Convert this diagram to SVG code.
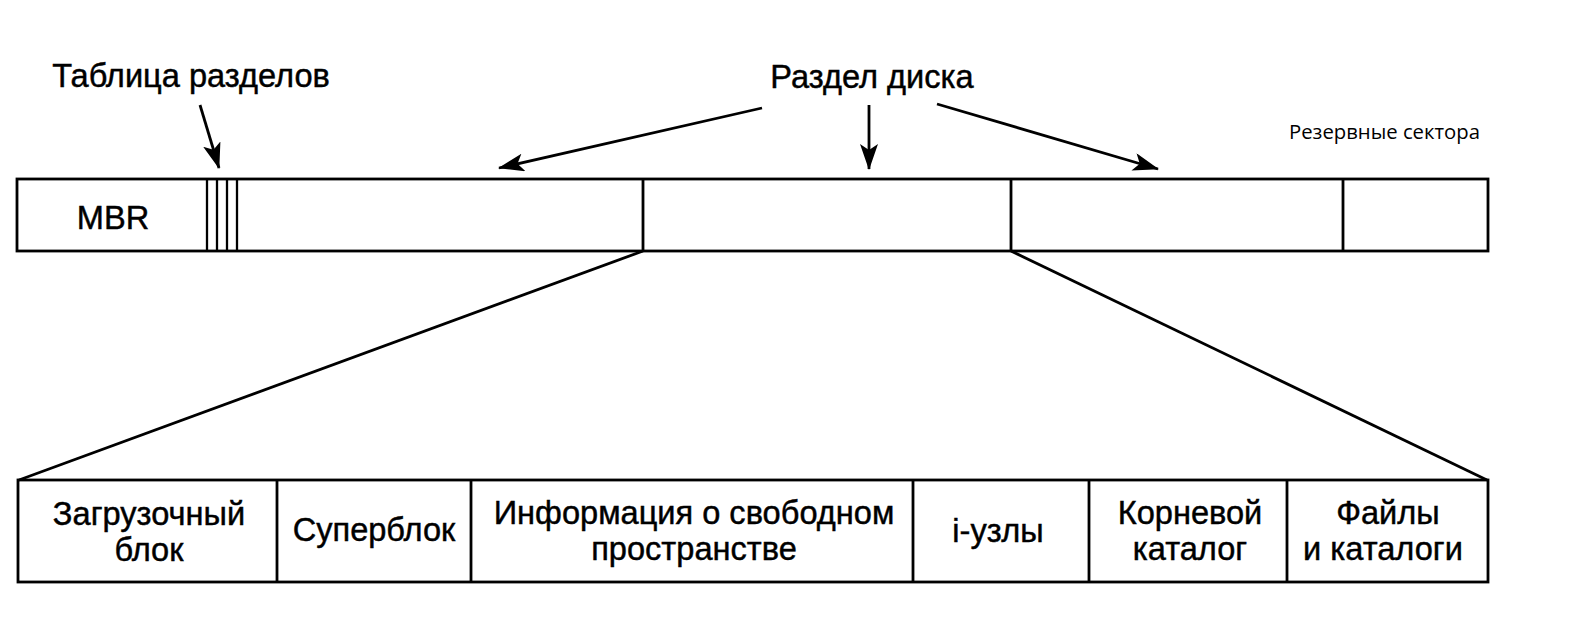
<svg xmlns="http://www.w3.org/2000/svg" width="1586" height="618" viewBox="0 0 1586 618">
  <style>
    .box { fill: #fff; stroke: #000; stroke-width: 2.8; }
    .ln { fill: none; stroke: #000; stroke-width: 2.8; }
    .thin { fill: none; stroke: #000; stroke-width: 2.3; }
    .t { font-family: "Liberation Sans", Arial, sans-serif; font-size: 32.6px; fill: #000; stroke: #000; stroke-width: 0.45; text-anchor: middle; }
    .s { font-family: "Open Sans", "Noto Sans", sans-serif; font-size: 20.3px; fill: #000; }
  </style>
  <defs>
    <marker id="arr" markerUnits="userSpaceOnUse" markerWidth="28" markerHeight="20" refX="25" refY="9" orient="auto">
      <path d="M0,0 L26,9 L0,18 L6,9 z" fill="#000"/>
    </marker>
  </defs>
  <rect width="1586" height="618" fill="#fff"/>

  <g id="disk">
    <rect class="box" x="17" y="179" width="1471" height="72"/>
    <g id="mbr">
      <text class="t" x="113" y="229">MBR</text>
    </g>
    <g id="partition-table">
      <line class="thin" x1="207" y1="179" x2="207" y2="251"/>
      <line class="thin" x1="217" y1="179" x2="217" y2="251"/>
      <line class="thin" x1="227" y1="179" x2="227" y2="251"/>
      <line class="thin" x1="237" y1="179" x2="237" y2="251"/>
    </g>
    <g id="partition-1"></g>
    <g id="partition-2">
      <line class="ln" x1="643" y1="179" x2="643" y2="251"/>
    </g>
    <g id="partition-3">
      <line class="ln" x1="1011" y1="179" x2="1011" y2="251"/>
    </g>
    <g id="reserved">
      <line class="ln" x1="1343" y1="179" x2="1343" y2="251"/>
    </g>
  </g>

  <g id="label-table">
    <text class="t" x="191" y="87">Таблица разделов</text>
  </g>
  <g id="label-partition">
    <text class="t" x="872" y="88">Раздел диска</text>
  </g>
  <g id="label-reserved">
    <text class="s" x="1289" y="139">Резервные сектора</text>
  </g>

  <g id="layout">
    <rect class="box" x="18" y="480" width="1470" height="102"/>
    <g id="boot">
      <text class="t" x="149" y="525">Загрузочный</text>
      <text class="t" x="149" y="561">блок</text>
    </g>
    <g id="superblock">
      <line class="ln" x1="277" y1="480" x2="277" y2="582"/>
      <text class="t" x="374" y="541">Суперблок</text>
    </g>
    <g id="freespace">
      <line class="ln" x1="471" y1="480" x2="471" y2="582"/>
      <text class="t" x="694" y="524">Информация о свободном</text>
      <text class="t" x="694" y="560">пространстве</text>
    </g>
    <g id="inodes">
      <line class="ln" x1="913" y1="480" x2="913" y2="582"/>
      <text class="t" x="998" y="542">i-узлы</text>
    </g>
    <g id="rootdir">
      <line class="ln" x1="1089" y1="480" x2="1089" y2="582"/>
      <text class="t" x="1190" y="524">Корневой</text>
      <text class="t" x="1190" y="560">каталог</text>
    </g>
    <g id="files">
      <line class="ln" x1="1287" y1="480" x2="1287" y2="582"/>
      <text class="t" x="1388" y="524">Файлы</text>
      <text class="t" x="1383" y="560">и каталоги</text>
    </g>
  </g>

  <g id="connectors">
    <line class="ln" x1="200" y1="105" x2="219" y2="168" marker-end="url(#arr)"/>
    <line class="ln" x1="762" y1="108" x2="499" y2="168" marker-end="url(#arr)"/>
    <line class="ln" x1="869" y1="105" x2="869" y2="169" marker-end="url(#arr)"/>
    <line class="ln" x1="937" y1="104" x2="1158" y2="169" marker-end="url(#arr)"/>
    <line class="ln" x1="643" y1="251" x2="19" y2="480"/>
    <line class="ln" x1="1011" y1="251" x2="1487" y2="480"/>
  </g>
</svg>
